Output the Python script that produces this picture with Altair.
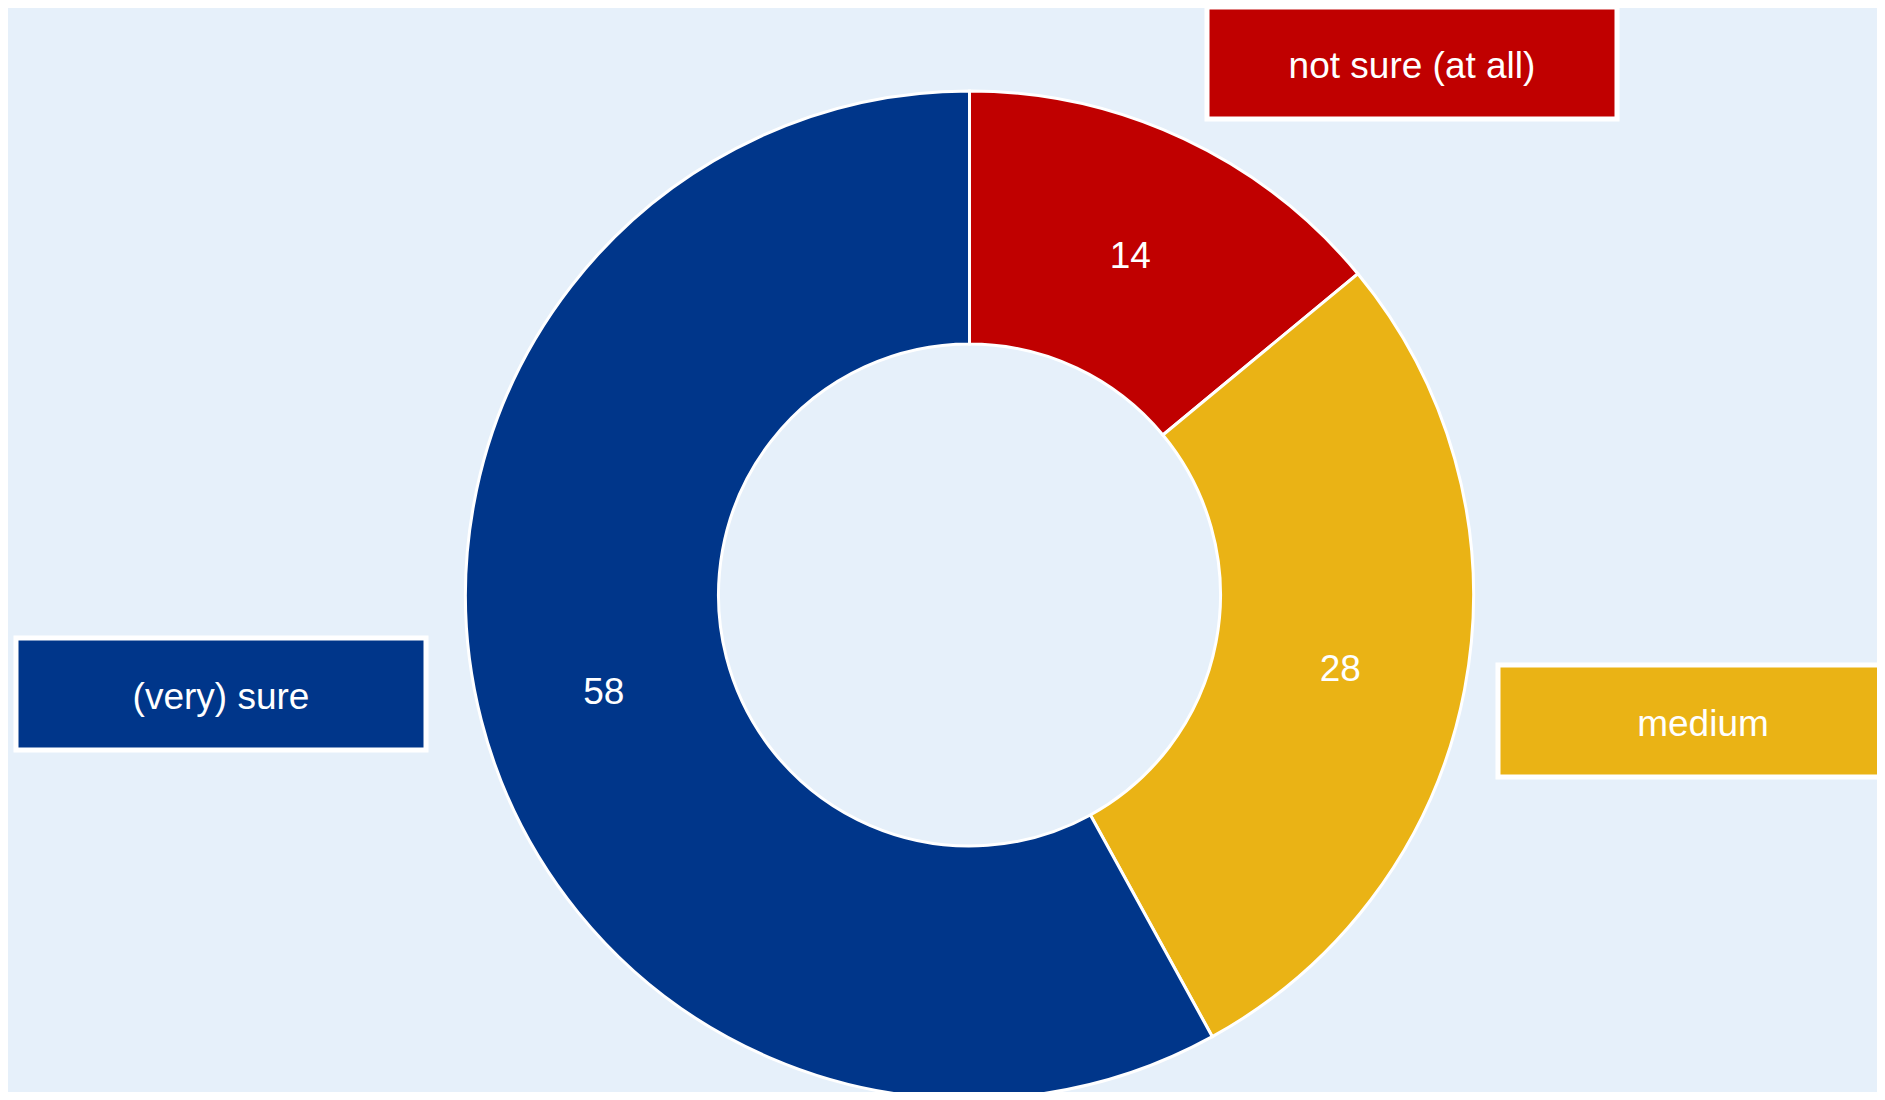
import altair as alt
import pandas as pd

# ---- data ----
categories = ["not sure (at all)", "medium", "(very) sure"]
values = [14, 28, 58]
colors = ["#C00000", "#EAB315", "#00368A"]

# ---- layout (pixels, chart coordinates) ----
W, H = 1869, 1084
CX, CY = 961.5, 587
R_OUT, R_IN = 504, 251
R_LABEL = (R_OUT + R_IN) / 2
BOX_W, BOX_H = 410, 112
box_left = [1199, 1490, 8]
box_top = [-1, 657, 630]
BG = "#E6F0FA"
FONT = "Liberation Sans"
FONT_SIZE = 37
TEXT_DY = 4

df = pd.DataFrame({
    "category": categories,
    "value": values,
    "order": list(range(len(categories))),
})

boxes = pd.DataFrame({
    "category": categories,
    "x": box_left,
    "x2": [b + BOX_W for b in box_left],
    "y": box_top,
    "y2": [b + BOX_H for b in box_top],
})
boxes["xc"] = (boxes["x"] + boxes["x2"]) / 2
boxes["yc"] = (boxes["y"] + boxes["y2"]) / 2

color_scale = alt.Scale(domain=categories, range=colors)

base = alt.Chart(df).encode(
    theta=alt.Theta("value:Q", stack=True),
    order=alt.Order("order:Q"),
)

arc = base.mark_arc(
    innerRadius=R_IN, outerRadius=R_OUT, stroke="white", strokeWidth=3
).encode(
    color=alt.Color("category:N", scale=color_scale, legend=None),
    x=alt.value(CX),
    y=alt.value(CY),
)

arc_text = base.mark_text(
    radius=R_LABEL, fontSize=FONT_SIZE, font=FONT, color="white",
    align="center", baseline="middle", dy=TEXT_DY,
).encode(
    text=alt.Text("value:Q"),
    x=alt.value(CX),
    y=alt.value(CY),
)

box = alt.Chart(boxes).mark_rect(stroke="white", strokeWidth=5).encode(
    x=alt.X("x:Q", scale=None),
    x2="x2:Q",
    y=alt.Y("y:Q", scale=None),
    y2="y2:Q",
    color=alt.Color("category:N", scale=color_scale, legend=None),
)

box_text = alt.Chart(boxes).mark_text(
    fontSize=FONT_SIZE, font=FONT, color="white", align="center",
    baseline="middle", dy=TEXT_DY,
).encode(
    x=alt.X("xc:Q", scale=None),
    y=alt.Y("yc:Q", scale=None),
    text="category:N",
)

chart = alt.layer(arc, arc_text, box, box_text).properties(
    width=W, height=H, background=BG, padding=0,
    autosize=alt.AutoSizeParams(type="none"),
).configure_view(stroke=None)

chart.save("out.html", embed_options={"renderer": "svg", "actions": False})
